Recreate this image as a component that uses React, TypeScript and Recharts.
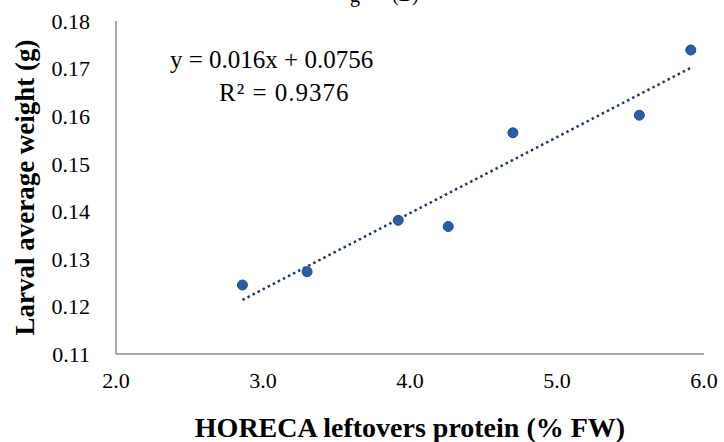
import React from "react";
import { ComposedChart, Scatter, XAxis, YAxis, ReferenceLine, Label, Customized } from "recharts";

const proteinX = [2.86, 3.3, 3.92, 4.26, 4.7, 5.56, 5.91];
const weightY = [0.1245, 0.1273, 0.1381, 0.1368, 0.1565, 0.1602, 0.1739];
const xTicks = [2, 3, 4, 5, 6];
const yTicks = [0.11, 0.12, 0.13, 0.14, 0.15, 0.16, 0.17, 0.18];
const slope = 0.016;
const intercept = 0.0756;
const equationText = "y = 0.016x + 0.0756";
const r2Text = "R² = 0.9376";
const xTitle = "HORECA leftovers protein (% FW)";
const yTitle = "Larval average weight (g)";

const points = proteinX.map((x, i) => ({ x, y: weightY[i] }));
const xMin = Math.min(...proteinX);
const xMax = Math.max(...proteinX);
const trend = [
  { x: xMin, y: slope * xMin + intercept },
  { x: xMax, y: slope * xMax + intercept },
];

const FONT = "'Liberation Serif', 'Times New Roman', serif";

const Equation = () => (
  <g fontFamily={FONT} fill="#000">
    <text x={170} y={68} fontSize={25}>{equationText}</text>
    <text x={219} y={101} fontSize={25} letterSpacing={1}>{r2Text}</text>
    <text x={350} y={2} fontSize={20}>g</text>
    <text x={392} y={1} fontSize={20}>(B)</text>
  </g>
);

const Dot = (props: any) => {
  const { cx, cy } = props;
  return <circle cx={cx} cy={cy} r={5} fill="#2C5BAA" stroke="#1F4A96" strokeWidth={1} />;
};

export default function App() {
  return (
    <div style={{ position: "absolute", left: 0, top: 0, background: "#fff" }}>
      <ComposedChart
        width={724}
        height={442}
        margin={{ top: 21, right: 20, bottom: 0, left: 0 }}
      >
        <XAxis
          type="number"
          dataKey="x"
          domain={[2, 6]}
          ticks={xTicks}
          tickFormatter={(v: number) => v.toFixed(1)}
          tickLine={false}
          axisLine={{ stroke: "#8C8C8C", strokeWidth: 1.5 }}
          tick={{ fill: "#000", fontSize: 22, fontFamily: FONT }}
          tickMargin={12}
          height={88}
        >
          <Label
            value={xTitle}
            position="insideBottom"
            offset={5}
            style={{ fontFamily: FONT, fontSize: 28, fontWeight: "bold", fill: "#000" }}
          />
        </XAxis>
        <YAxis
          type="number"
          dataKey="y"
          domain={[0.11, 0.18]}
          ticks={yTicks}
          tickFormatter={(v: number) => v.toFixed(2)}
          tickLine={false}
          axisLine={{ stroke: "#8C8C8C", strokeWidth: 1.5 }}
          tick={{ fill: "#000", fontSize: 22, fontFamily: FONT }}
          tickMargin={20}
          width={116}
        >
          <Label
            value={yTitle}
            angle={-90}
            position="insideLeft"
            offset={24}
            style={{ textAnchor: "middle", fontFamily: FONT, fontSize: 27, fontWeight: "bold", fill: "#000" }}
          />
        </YAxis>
        <ReferenceLine
          segment={trend}
          stroke="#1F3864"
          strokeWidth={2.5}
          strokeDasharray="2.5 3.2"
          ifOverflow="visible"
        />
        <Scatter data={points} shape={<Dot />} isAnimationActive={false} />
        <Customized component={Equation} />
      </ComposedChart>
    </div>
  );
}
